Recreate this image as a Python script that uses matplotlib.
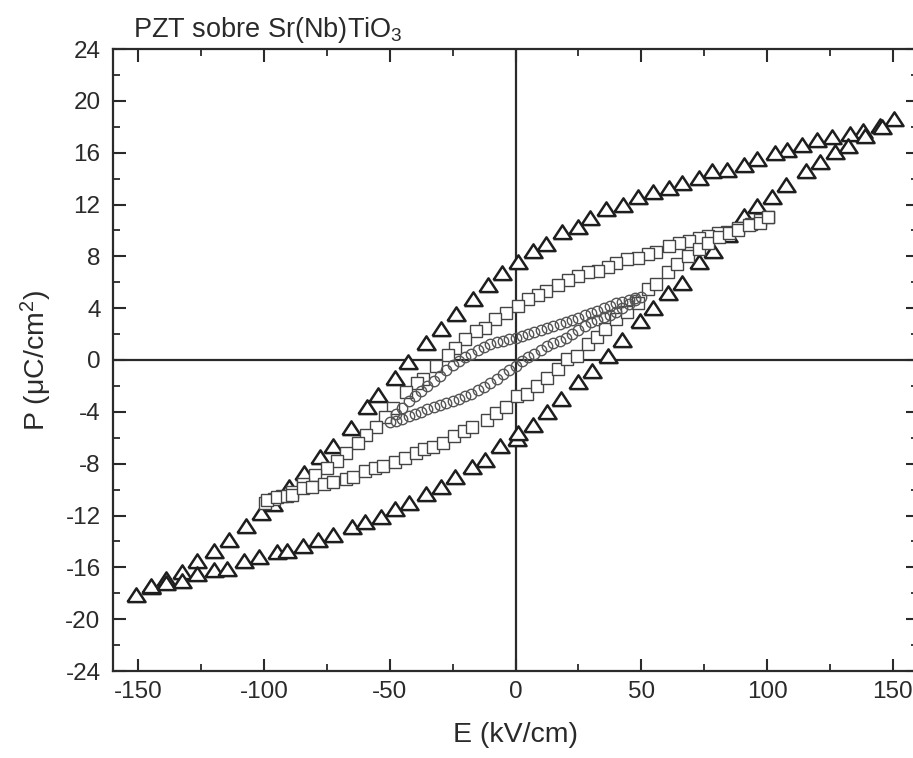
# -*- coding: utf-8 -*-
"""
plot.py - P-E hysteresis loops of PZT on Sr(Nb)TiO3 (three field amplitudes).
"""

import matplotlib
matplotlib.use("Agg")
import matplotlib.pyplot as plt
from matplotlib.ticker import MultipleLocator

plt.rcParams['font.family'] = ['Liberation Sans', 'DejaVu Sans']
plt.rcParams['mathtext.default'] = 'regular'
plt.rcParams['axes.unicode_minus'] = False

# --- +/-150 kV/cm loop (triangles) ---
tri_up_E = [150.5, 145, 138, 133, 126, 120, 114, 108, 103, 96, 91, 84, 78, 73, 66,
            61, 54.5, 48.5, 42.6, 35.8, 29.8, 24.7, 18.3, 12.3, 6.8, 0.8, -5.2, -11,
            -17, -23.5, -29.5, -35.4, -42.6, -48, -54.5, -59, -65.5, -72.4, -77.6,
            -84, -90, -96.5, -101, -107, -114, -120, -126.5, -132.5, -139, -145, -151]
tri_up_P = [18.5, 18.0, 17.6, 17.4, 17.1, 16.9, 16.5, 16.1, 15.9, 15.4, 15.0, 14.6,
            14.5, 14.0, 13.6, 13.2, 12.9, 12.5, 11.9, 11.6, 10.9, 10.2, 9.8, 8.9, 8.3,
            7.5, 6.6, 5.7, 4.6, 3.5, 2.3, 1.2, -0.2, -1.5, -2.8, -3.7, -5.3, -6.7,
            -7.6, -8.8, -9.9, -11.2, -11.9, -12.9, -14.0, -14.8, -15.6, -16.4, -17.0,
            -17.6, -18.2]
tri_dn_E = [-145, -139, -132.5, -126.5, -120, -114.6, -108, -102, -95, -91, -84.4,
            -78.4, -72.4, -65, -59.7, -53.3, -47.8, -42.2, -35.4, -29.8, -23.9, -17.1,
            -12.3, -6, 0.5, 0.8, 6.8, 12.7, 17.9, 25, 30.5, 36.6, 42.2, 49.3, 54.5,
            60.5, 66, 72.8, 78.4, 84.5, 91, 95.9, 101.9, 107.4, 115.4, 121, 127, 132,
            139, 145.6]
tri_dn_P = [-17.5, -17.3, -17.1, -16.6, -16.3, -16.2, -15.6, -15.3, -14.9, -14.8,
            -14.4, -14.0, -13.6, -13.0, -12.6, -12.2, -11.6, -11.1, -10.4, -9.9, -9.1,
            -8.3, -7.8, -6.7, -6.2, -5.7, -5.1, -4.1, -3.1, -1.8, -0.95, 0.2, 1.5, 2.9,
            3.9, 5.1, 5.9, 7.5, 8.3, 9.6, 11.0, 11.8, 12.5, 13.4, 14.5, 15.2, 16.0,
            16.4, 17.2, 17.9]

# --- +/-100 kV/cm loop (squares) ---
sq_up_E = [100.3, 97, 93.5, 88.3, 84, 80.4, 76.4, 72.8, 68.8, 64.9, 60.9, 56, 52.5,
           48.5, 44.2, 39.8, 36.6, 32.6, 29, 25, 21, 16.7, 12.3, 8.8, 4.8, 0.8, -3.6,
           -8, -12, -15.9, -19.9, -23.9, -27, -31.8, -36.6, -39, -43.4, -48.5, -52,
           -55.3, -59.5, -62.5, -67.3, -71, -75, -79.6, -84.4, -88.7, -92.7, -96,
           -99.5]
sq_up_P = [11.0, 10.8, 10.5, 10.2, 9.9, 9.8, 9.6, 9.4, 9.2, 9.0, 8.8, 8.3, 8.2, 7.9,
           7.8, 7.5, 7.2, 6.9, 6.8, 6.5, 6.2, 5.8, 5.3, 5.0, 4.7, 4.2, 3.6, 3.2, 2.5,
           2.2, 1.6, 0.9, 0.4, -0.5, -1.5, -1.8, -2.5, -3.7, -4.4, -5.2, -5.8, -6.4,
           -7.2, -7.8, -8.3, -8.9, -9.6, -10.2, -10.5, -10.7, -11.0]
sq_dn_E = [-98.7, -95, -91, -88.7, -84.4, -80.8, -76, -72.4, -67.3, -64.5, -60, -56,
           -52.5, -48, -44, -39.4, -36.2, -32.6, -29, -24.3, -20.3, -17.1, -11.5,
           -7.6, -3.6, 0.6, 4.6, 8.4, 12.7, 16.7, 20.3, 24.3, 28.7, 32.2, 35.4, 39.8,
           44.2, 48.5, 52.5, 56, 60.5, 64, 68.4, 72.8, 76.4, 80.8, 85, 88.3, 93, 97,
           100.3]
sq_dn_P = [-10.8, -10.6, -10.5, -10.4, -9.9, -9.8, -9.6, -9.4, -9.2, -9.0, -8.6,
           -8.3, -8.2, -7.9, -7.6, -7.2, -6.9, -6.7, -6.4, -5.9, -5.5, -5.2, -4.6,
           -4.1, -3.6, -2.8, -2.6, -2.0, -1.4, -0.7, 0.1, 0.3, 1.2, 1.8, 2.4, 3.2, 3.7,
           4.4, 5.5, 5.9, 6.8, 7.4, 8.0, 8.6, 9.0, 9.5, 9.8, 10.0, 10.4, 10.6, 11.0]

# --- +/-50 kV/cm loop (circles) ---
ci_up_E = [50, 47.5, 45, 42.5, 40, 37.5, 35, 32.5, 30, 27.5, 25, 22.5, 20, 17.5, 15,
           12.5, 10, 7.5, 5, 2.5, 0, -2.5, -5, -7.5, -10, -12.5, -15, -17.5, -20,
           -22.5, -25, -27.5, -30, -32.5, -35, -37.5, -40, -42.5, -45, -47.5, -50]
ci_up_P = [4.9, 4.75, 4.6, 4.5, 4.4, 4.2, 4.0, 3.8, 3.6, 3.45, 3.25, 3.1, 2.9, 2.75,
           2.6, 2.45, 2.3, 2.15, 2.0, 1.85, 1.7, 1.6, 1.5, 1.4, 1.25, 1.0, 0.75, 0.5,
           0.25, -0.05, -0.4, -0.8, -1.2, -1.6, -2.0, -2.4, -2.8, -3.2, -3.7, -4.2,
           -4.8]
ci_dn_E = [-47.5, -45, -42.5, -40, -37.5, -35, -32.5, -30, -27.5, -25, -22.5, -20,
           -17.5, -15, -12.5, -10, -7.5, -5, -2.5, 0, 2.5, 5, 7.5, 10, 12.5, 15, 17.5,
           20, 22.5, 25, 27.5, 30, 32.5, 35, 37.5, 40, 42.5, 45, 47.5]
ci_dn_P = [-4.7, -4.55, -4.35, -4.15, -4.0, -3.8, -3.65, -3.5, -3.35, -3.15, -3.0,
           -2.8, -2.6, -2.35, -2.05, -1.75, -1.45, -1.1, -0.75, -0.45, -0.1, 0.2, 0.5,
           0.8, 1.05, 1.3, 1.5, 1.7, 2.0, 2.3, 2.6, 2.9, 3.1, 3.3, 3.5, 3.7, 4.0, 4.3,
           4.6]

x_ticks = [-150, -100, -50, 0, 50, 100, 150]
y_ticks = [-24, -20, -16, -12, -8, -4, 0, 4, 8, 12, 16, 20, 24]

INK = '#2a2a2a'

fig = plt.figure(figsize=(9.13, 7.58), dpi=100)
ax = fig.add_axes([113 / 913, 87 / 758, 805 / 913, 622 / 758])

# wider-than-tall open triangle like the original software
tri = [(-1, -0.62), (1, -0.62), (0, 0.9), (-1, -0.62)]

ax.axhline(0, color=INK, lw=1.6, zorder=1)
ax.axvline(0, color=INK, lw=1.6, zorder=1)

for E, P in [(tri_up_E, tri_up_P), (tri_dn_E, tri_dn_P)]:
    ax.plot(E, P, linestyle='none', marker=tri, markersize=13, mfc='white',
            mec='#1e1e1e', mew=1.8, zorder=3)
for E, P in [(sq_up_E, sq_up_P), (sq_dn_E, sq_dn_P)]:
    ax.plot(E, P, linestyle='none', marker='s', markersize=8, mfc='white',
            mec='#444444', mew=1.0, zorder=4)
for E, P in [(ci_up_E, ci_up_P), (ci_dn_E, ci_dn_P)]:
    ax.plot(E, P, linestyle='none', marker='o', markersize=7.5, mfc='none',
            mec='#555555', mew=1.0, zorder=5)

ax.set_xlim(-160, 160)
ax.set_ylim(-24, 24)
ax.set_xticks(x_ticks)
ax.set_yticks(y_ticks)
ax.xaxis.set_minor_locator(MultipleLocator(25))
ax.yaxis.set_minor_locator(MultipleLocator(2))
ax.tick_params(which='both', direction='in', top=True, right=True, colors=INK,
               labelsize=17.5)
ax.tick_params(which='major', length=9, width=1.5)
ax.tick_params(which='minor', length=5, width=1.3)
ax.tick_params(axis='x', pad=7)
ax.tick_params(axis='y', pad=9)
for sp in ax.spines.values():
    sp.set_linewidth(1.6)
    sp.set_color(INK)

ax.set_xlabel('E (kV/cm)', fontsize=20.5, color=INK, labelpad=14)
ax.set_ylabel(r'P ($\mu$C/cm$^2$)', fontsize=20.5, color=INK, labelpad=8)

fig.text(133 / 913, 1 - 37 / 758, r'PZT sobre Sr(Nb)TiO$_3$', fontsize=19.5,
         color=INK, ha='left', va='baseline')

fig.savefig('out.png', dpi=100)
plt.close(fig)
